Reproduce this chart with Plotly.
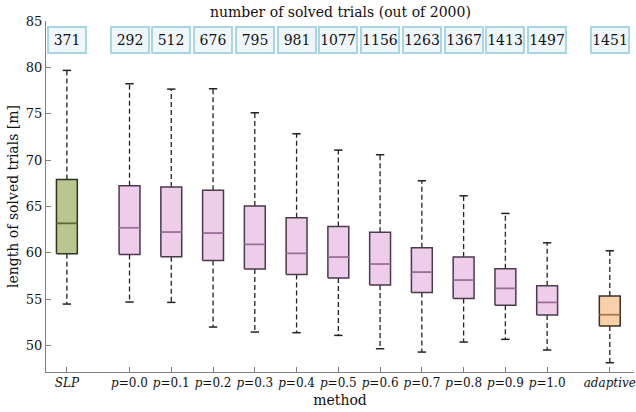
import plotly.graph_objects as go

methods = ["SLP", "p=0.0", "p=0.1", "p=0.2", "p=0.3", "p=0.4", "p=0.5",
           "p=0.6", "p=0.7", "p=0.8", "p=0.9", "p=1.0", "adaptive"]
tick_labels = ["<i>SLP</i>"] + ["<i>p</i>=%s" % m[2:] for m in methods[1:-1]] + ["<i>adaptive</i>"]
solved = [371, 292, 512, 676, 795, 981, 1077, 1156, 1263, 1367, 1413, 1497, 1451]
upper_whisker = [79.67, 78.23, 77.65, 77.69, 75.10, 72.83, 71.07, 70.57, 67.76, 66.14, 64.24, 61.07, 60.21]
q3 = [67.90, 67.22, 67.08, 66.73, 65.03, 63.77, 62.84, 62.20, 60.53, 59.53, 58.27, 56.44, 55.32]
median = [63.17, 62.69, 62.23, 62.12, 60.90, 59.93, 59.53, 58.78, 57.91, 57.05, 56.15, 54.64, 53.31]
q1 = [59.89, 59.82, 59.56, 59.17, 58.24, 57.66, 57.27, 56.51, 55.72, 55.07, 54.32, 53.27, 52.09]
lower_whisker = [54.46, 54.68, 54.64, 51.98, 51.44, 51.37, 51.08, 49.64, 49.28, 50.36, 50.65, 49.50, 48.13]

pos = [1.0] + [2.5 + i for i in range(11)] + [14.0]

fills = ["#b9c78f"] + ["#eecdeb"] * 11 + ["#f8d1aa"]
edges = ["#2f3320"] + ["#4a3a4a"] * 11 + ["#3a3028"]
meds = ["#5d6a38"] + ["#9a6f98"] * 11 + ["#a8764c"]

FONT = "DejaVu Serif"
hw = 0.25
cw = 0.1

fig = go.Figure()
for i in range(len(methods)):
    x = pos[i]
    fig.add_trace(go.Scatter(x=[x, x, None, x, x], y=[q3[i], upper_whisker[i], None, q1[i], lower_whisker[i]],
                             mode="lines", line=dict(color="#222222", width=1.3, dash="5px,3px"),
                             showlegend=False, hoverinfo="skip"))
    fig.add_trace(go.Scatter(x=[x - cw, x + cw, None, x - cw, x + cw],
                             y=[upper_whisker[i], upper_whisker[i], None, lower_whisker[i], lower_whisker[i]],
                             mode="lines", line=dict(color="#222222", width=1.5),
                             showlegend=False, hoverinfo="skip"))
    fig.add_trace(go.Scatter(x=[x - hw, x + hw, x + hw, x - hw, x - hw],
                             y=[q1[i], q1[i], q3[i], q3[i], q1[i]],
                             mode="lines", fill="toself", fillcolor=fills[i],
                             line=dict(color=edges[i], width=1.5),
                             showlegend=False, hoverinfo="skip"))
    fig.add_trace(go.Scatter(x=[x - hw, x + hw], y=[median[i], median[i]],
                             mode="lines", line=dict(color=meds[i], width=1.8),
                             showlegend=False, hoverinfo="skip"))

annotations = []
for i in range(len(methods)):
    annotations.append(dict(x=pos[i], y=82.94, xref="x", yref="y", text=str(solved[i]),
                            showarrow=False, font=dict(family=FONT, size=14, color="#111111"),
                            bgcolor="#eff7fd", bordercolor="#a9d6e2", borderwidth=2,
                            borderpad=0, width=36, height=24, align="center", valign="middle"))
annotations.append(dict(x=0.5, y=1.026, xref="paper", yref="paper",
                        text="number of solved trials (out of 2000)", showarrow=False,
                        font=dict(family=FONT, size=14, color="#111111"), yanchor="middle"))

fig.update_layout(
    width=636, height=412,
    margin=dict(l=46, r=0, t=21, b=40),
    plot_bgcolor="white", paper_bgcolor="white",
    font=dict(family=FONT, size=13, color="#222222"),
    annotations=annotations,
    showlegend=False,
)
fig.update_xaxes(range=[0.5, 14.58], tickvals=pos, ticktext=tick_labels, tickangle=0,
                 ticklabeloverflow="allow",
                 ticks="inside", ticklen=5, tickcolor="#808080",
                 showline=True, linecolor="#808080", linewidth=1, showgrid=False, zeroline=False,
                 tickfont=dict(family=FONT, size=12, color="#111111"),
                 title=dict(text="method", standoff=5, font=dict(family=FONT, size=14, color="#111111")))
fig.update_yaxes(range=[47.13, 85], tickvals=[50, 55, 60, 65, 70, 75, 80, 85],
                 ticks="inside", ticklen=5, tickcolor="#808080",
                 showline=True, linecolor="#808080", linewidth=1, showgrid=False, zeroline=False,
                 tickfont=dict(family=FONT, size=13, color="#111111"),
                 title=dict(text="length of solved trials [m]", standoff=3,
                            font=dict(family=FONT, size=14, color="#111111")))

fig.write_html("out.html")
